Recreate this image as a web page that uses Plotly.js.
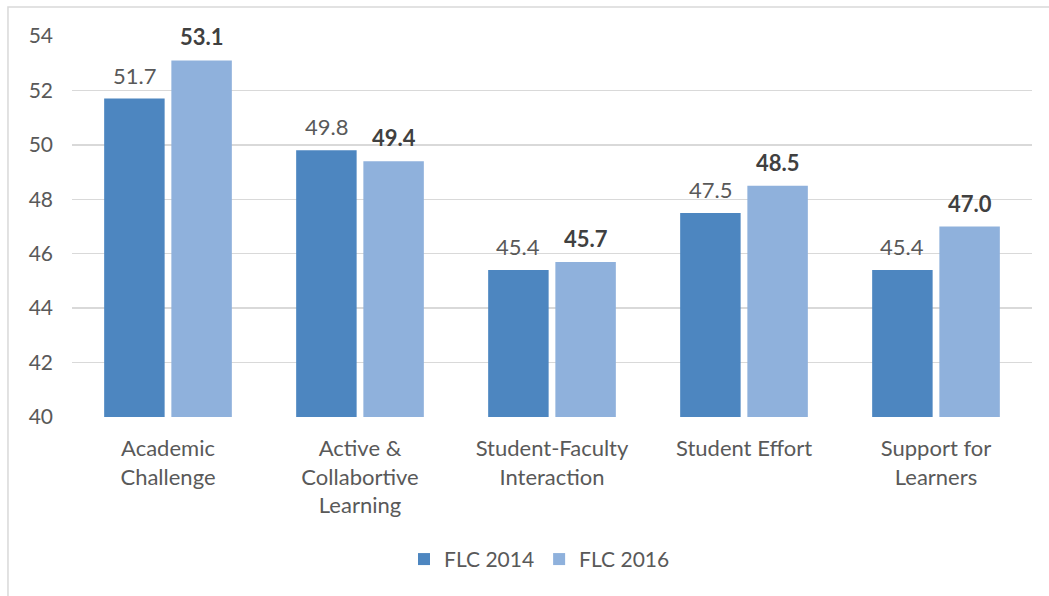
<!DOCTYPE html>
<html>
<head>
<meta charset="utf-8">
<script src="https://cdn.plot.ly/plotly-3.0.1.min.js"></script>
<style>html,body{margin:0;padding:0;background:#fff;}#chart{width:1049px;height:596px;}</style>
</head>
<body>
<div id="chart"></div>
<script>
const categories = ["Academic<br>Challenge", "Active &<br>Collabortive<br>Learning", "Student-Faculty<br>Interaction", "Student Effort", "Support for<br>Learners"];
const flc2014 = [51.7, 49.8, 45.4, 47.5, 45.4];
const flc2016 = [53.1, 49.4, 45.7, 48.5, 47.0];
const seriesNames = ["FLC 2014", "FLC 2016"];
const yTicks = [40, 42, 44, 46, 48, 50, 52, 54];

const font = "Lato, 'Open Sans', sans-serif";
const W = 1049, H = 596;
const margin = {l: 72, r: 17, t: 36, b: 179};
const bargap = 0.30, bargroupgap = 0.1;
const plotW = W - margin.l - margin.r;
const slotShift = (plotW / categories.length) * (1 - bargap) / 4;

const traces = [
  {
    type: "bar", name: seriesNames[0], x: categories, y: flc2014,
    marker: {color: "#4d86c0", line: {width: 0}}
  },
  {
    type: "bar", name: seriesNames[1], x: categories, y: flc2016,
    marker: {color: "#8fb1dc", line: {width: 0}}
  }
];

const annotations = [];
categories.forEach((c, i) => {
  annotations.push({
    x: c, y: flc2014[i], xref: "x", yref: "y", text: flc2014[i].toFixed(1),
    showarrow: false, yanchor: "bottom", xanchor: "center", xshift: -slotShift, yshift: 8,
    font: {family: font, size: 22, color: "#595959"}
  });
  annotations.push({
    x: c, y: flc2016[i], xref: "x", yref: "y", text: "<b>" + flc2016[i].toFixed(1) + "</b>",
    showarrow: false, yanchor: "bottom", xanchor: "center", xshift: slotShift, yshift: 8,
    font: {family: font, size: 22, color: "#404040"}
  });
});

const layout = {
  width: W, height: H,
  margin: margin,
  paper_bgcolor: "#fff", plot_bgcolor: "#fff",
  font: {family: font, size: 21, color: "#595959"},
  bargap: bargap, bargroupgap: bargroupgap,
  showlegend: true,
  legend: {orientation: "h", x: 0.487, xanchor: "center", y: -0.32, yanchor: "top",
           font: {family: font, size: 21, color: "#595959"}, traceorder: "normal"},
  xaxis: {type: "category", showgrid: false, zeroline: false, showline: false,
          ticks: "", ticklabelstandoff: 16, tickfont: {family: font, size: 22, color: "#595959"}},
  yaxis: {range: [40, 54], tickvals: yTicks, showgrid: true, gridcolor: "#d9d9d9", gridwidth: 1.5,
          zeroline: false, showline: false, ticks: "", ticklabelstandoff: 18,
          tickfont: {family: font, size: 21, color: "#595959"}},
  annotations: annotations,
  shapes: [
    {type: "rect", xref: "paper", yref: "paper", x0: -0.0667, x1: 1.2, y0: -0.6, y1: 1.076,
     line: {color: "#d9d9d9", width: 1.5}, fillcolor: "rgba(0,0,0,0)", layer: "below"}
  ]
};

Plotly.newPlot("chart", traces, layout, {displayModeBar: false, staticPlot: true});
</script>
</body>
</html>
